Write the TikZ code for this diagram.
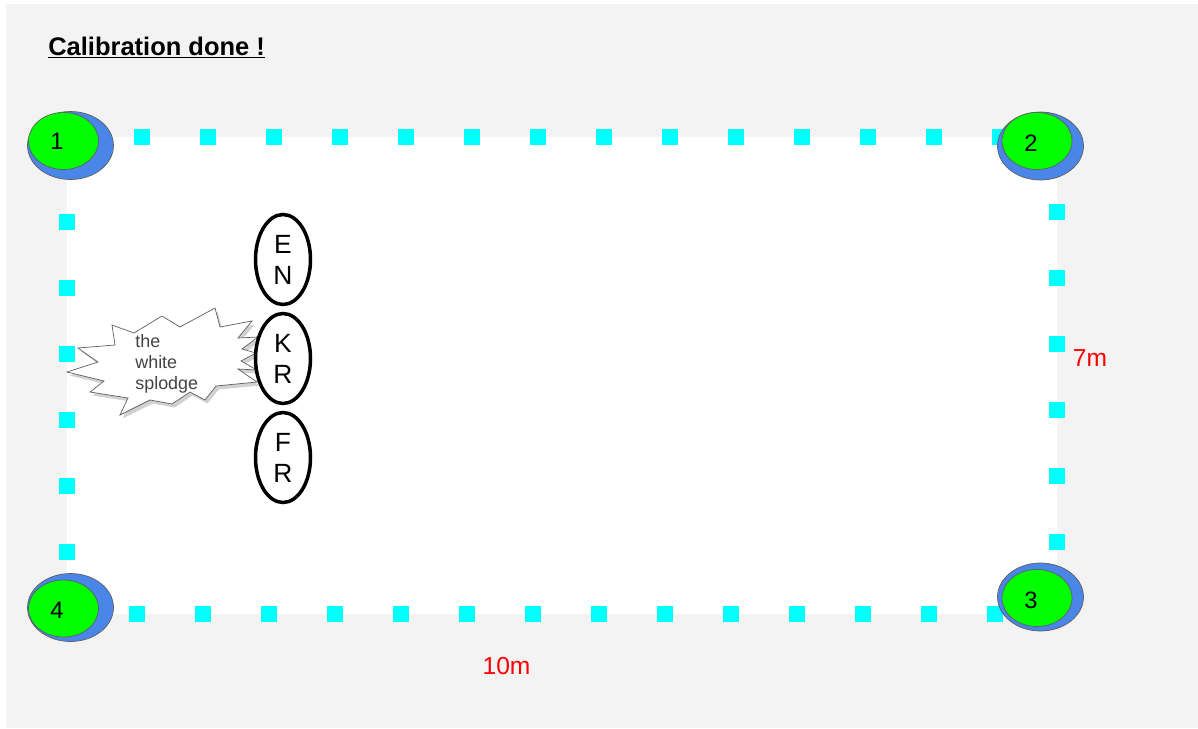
\documentclass[tikz,border=0pt]{standalone}
\usepackage{fontspec}
\setmainfont{Liberation Sans}
\usetikzlibrary{shapes.geometric, shadows}

\definecolor{bggray}{HTML}{F3F3F3}
\definecolor{tickcyan}{HTML}{00FFFF}
\definecolor{dotblue}{HTML}{4A86E8}
\definecolor{dotgreen}{HTML}{00FF00}
\definecolor{rimgray}{HTML}{5F5F5F}
\definecolor{splodgetext}{HTML}{434343}

\begin{document}
\begin{tikzpicture}[
      x=0.02cm, y=-0.02cm,
      tick/.style={rectangle, fill=tickcyan, minimum size=0.32cm, inner sep=0pt},
      bluedot/.style={ellipse, draw=rimgray, fill=dotblue, minimum width=1.72cm, minimum height=1.36cm, inner sep=0pt},
      greendot/.style={ellipse, draw=rimgray, fill=dotgreen, minimum width=1.40cm, minimum height=1.14cm, inner sep=0pt},
      num/.style={inner sep=0pt, font=\fontsize{13.5}{16}\selectfont},
      letters/.style={ellipse, draw=black, line width=2pt, fill=white, minimum width=1.1cm, minimum height=1.8cm, inner sep=0pt, align=center, font=\fontsize{15}{17.6}\selectfont},
      dist/.style={text=red, inner sep=0pt, font=\fontsize{14}{16}\selectfont}
    ]
    \useasboundingbox (0,0) rectangle (1198,728);
    \fill[white] (0,0) rectangle (1198,728);
    \fill[bggray] (6,4) rectangle (1198,728);
    \fill[white] (67,137) rectangle (1057,614);

    \node[anchor=base west, inner sep=0pt, font=\bfseries\fontsize{14.5}{17}\selectfont] (title) at (48,55) {\underline{Calibration done !}};

    % field border
    \foreach \i in {0,...,13} {
      \node[tick] (top\i) at (142+66*\i,137) {};
      \node[tick] (bot\i) at (137+66*\i,614) {};
    }
    \foreach \i in {0,...,5} {
      \node[tick] (left\i) at (67,222+66*\i) {};
      \node[tick] (right\i) at (1057,212+66*\i) {};
    }

    % corner markers
    \foreach \n/\bx/\by/\gx/\gy/\tx/\ty in {1/70.5/145.5/63.5/141/57/141, 2/1040.5/146/1037/141/1031/143,
        3/1040.5/597/1037/598/1031/600, 4/70.5/607.5/63.5/608.5/57/610} {
      \node[bluedot] (b\n) at (\bx,\by) {};
      \node[greendot] (g\n) at (\gx,\gy) {};
      \node[num] (n\n) at (\tx,\ty) {\n};
    }

    % the splodge
    \filldraw[draw=rimgray, fill=white, drop shadow={shadow xshift=1.5pt, shadow yshift=-2pt, fill=black, opacity=0.18}]
      (112,325) -- (134,333) -- (162,316) -- (180,327) -- (215,308) -- (220,327) -- (252,321) -- (238,338)
      -- (258,337) -- (242,349) -- (256,353) -- (241,361) -- (257,370) -- (238,369) -- (257,382) -- (216,386)
      -- (205,400) -- (190,392) -- (172,404) -- (150,400) -- (120,415) -- (128,398) -- (90,392) -- (104,381)
      -- (67,372) -- (98,362) -- (78,348) -- (115,345) -- cycle;
    \node[anchor=north west, inner sep=0pt, align=left, text=splodgetext, font=\fontsize{10.2}{12}\selectfont] (splodge) at (135,334) {the\\white\\splodge};

    \node[letters] (en) at (283,259.5) {E\\N};
    \node[letters] (kr) at (283,358.5) {K\\R};
    \node[letters] (fr) at (283,457.5) {F\\R};

    \node[dist] (wlen) at (506.5,666) {10m};
    \node[dist] (hlen) at (1090,358) {7m};
  \end{tikzpicture}
\end{document}
